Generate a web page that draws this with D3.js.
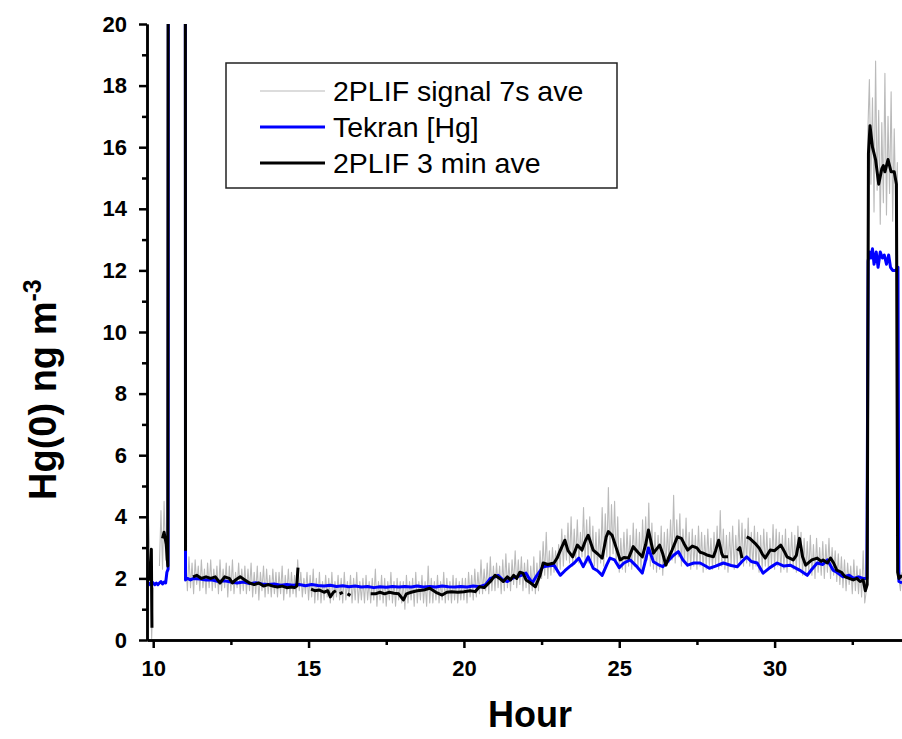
<!DOCTYPE html>
<html>
<head>
<meta charset="utf-8">
<script src="https://cdn.jsdelivr.net/npm/d3@7"></script>
<style>
  body { margin: 0; background: #fff; }
  svg { display: block; }
</style>
</head>
<body>
<figure id="hg" style="margin:0"></figure>
<script>
// 7 s averaged 2PLIF signal, one value every 0.05 h starting at 9.80 h
const grayStart = 9.8;
const grayStep = 0.05;
const grayVals = [
  1.5, 3.9, 2.6, 0.05,
  1.7, null, null, null, 2.4, 4.2, 2.3, 4.5, 2.6, 3.8, 60, 60, 60, 60, 60, 60, 60, 60, 60, 60,
  60, 2.6, 1.6, 2.7, 1.7, 2.5, 1.5, 2.6, 1.8, 2.4, 1.6, 2.6, 1.7, 2.3, 1.5, 2.5, 1.7, 2.6, 1.6, 2.3,
  1.7, 2.4, 1.5, 2.6, 1.6, 2.3, 1.7, 2.5, 1.4, 2.4, 1.6, 2.6, 1.5, 2.2, 1.7, 2.5, 1.5, 2.3, 1.6, 2.4,
  1.5, 2.3, 1.6, 2.5, 1.4, 2.2, 1.5, 2.4, 1.3, 2.2, 1.6, 2.4, 1.4, 2.3, 1.5, 2.1, 1.4, 2.3, 1.5, 2.2,
  1.4, 2.2, 1.5, 2.4, 1.3, 2.1, 1.5, 2.3, 1.4, 2.2, 1.5, 2.1, 1.4, 2.6, 1.6, 2.2, 1.4, 2.0, 1.5, 2.2,
  1.3, 2.1, 1.4, 2.3, 1.2, 2.0, 1.3, 2.2, 1.2, 1.9, 1.3, 2.1, 1.4, 2.0, 1.2, 2.2, 1.3, 1.9, 1.4, 2.1,
  1.3, 2.0, 1.2, 2.2, 1.3, 1.9, 1.4, 2.1, 1.2, 2.0, 1.3, 2.2, 1.2, 1.9, 1.3, 2.0, 1.2, 2.1, 1.3, 1.9,
  1.2, 2.0, 1.3, 2.3, 1.1, 1.9, 1.3, 2.1, 1.2, 2.0, 1.1, 1.9, 1.3, 2.2, 1.2, 1.9, 1.1, 2.0, 1.3, 1.9,
  1.2, 1.9, 1.0, 2.1, 1.2, 1.9, 1.3, 2.0, 1.1, 2.2, 1.2, 1.9, 1.3, 2.1, 1.2, 1.9, 1.1, 2.4, 1.2, 2.0,
  1.2, 1.9, 1.3, 2.1, 1.2, 1.9, 1.3, 2.2, 1.2, 2.0, 1.3, 1.9, 1.2, 2.1, 1.3, 2.0, 1.2, 1.9, 1.3, 2.0,
  1.3, 2.0, 1.2, 2.2, 1.4, 2.1, 1.3, 2.3, 1.4, 2.2, 1.5, 2.6, 1.5, 2.3, 1.6, 2.5, 1.5, 2.7, 1.6, 2.4,
  1.6, 2.5, 1.7, 2.4, 1.5, 2.6, 1.6, 2.8, 1.7, 2.5, 1.6, 2.6, 1.8, 2.9, 1.7, 2.6, 1.8, 2.7, 1.6, 2.5,
  1.7, 2.6, 1.5, 2.4, 1.6, 2.7, 1.5, 2.5, 1.6, 2.9, 2.0, 3.2, 2.1, 3.5, 2.0, 2.9, 2.1, 3.0, 2.2, 2.9,
  2.2, 3.1, 2.3, 3.6, 2.4, 3.4, 2.6, 3.8, 2.5, 4.0, 2.4, 3.6, 2.6, 3.9, 2.5, 3.5, 2.7, 4.3, 2.6, 3.9,
  2.5, 4.0, 2.6, 3.7, 2.4, 3.5, 2.3, 3.6, 2.5, 4.3, 2.4, 4.1, 2.7, 4.95, 2.6, 4.4, 2.8, 4.5, 2.5, 4.0,
  2.2, 3.3, 2.3, 3.5, 2.2, 3.6, 2.4, 3.4, 2.3, 3.8, 2.4, 3.6, 2.3, 3.5, 2.2, 3.9, 2.5, 4.0, 2.6, 4.45,
  2.4, 3.8, 2.3, 3.5, 2.2, 3.4, 2.3, 3.7, 2.1, 3.5, 2.4, 3.6, 2.5, 3.9, 2.6, 4.7, 2.5, 3.9, 2.7, 4.1,
  2.4, 3.6, 2.5, 3.96, 2.4, 3.5, 2.3, 3.6, 2.4, 3.4, 2.3, 3.7, 2.4, 3.5, 2.2, 3.4, 2.3, 3.6, 2.4, 3.3,
  2.3, 3.5, 2.4, 3.7, 2.3, 4.2, 2.4, 3.6, 2.3, 3.4, 2.2, 3.5, 2.4, 3.7, 2.3, 3.4, 2.4, 3.9, 2.5, 3.8,
  2.4, 3.6, 2.5, 3.96, 2.4, 3.5, 2.3, 3.7, 2.4, 3.5, 2.2, 3.4, 2.3, 3.6, 2.4, 3.5, 2.3, 3.3, 2.4, 3.75,
  2.3, 3.6, 2.4, 3.5, 2.2, 3.4, 2.3, 3.6, 2.2, 3.3, 2.4, 3.5, 2.3, 3.4, 2.2, 3.7, 2.3, 3.5, 2.1, 3.3,
  2.1, 3.2, 2.2, 3.4, 2.1, 3.1, 2.0, 3.3, 2.2, 3.0, 2.1, 3.2, 2.0, 3.1, 2.2, 3.3, 2.0, 3.0, 2.1, 2.9,
  1.9, 2.8, 1.8, 2.7, 1.7, 2.6, 1.6, 2.5, 1.8, 2.4, 1.5, 2.6, 1.6, 2.4, 1.5, 2.3, 1.4, 2.9, 1.2, 1.6,
  16.5, 18.2, 14.8, 17.6, 13.9, 18.8, 14.6, 17.2, 13.5, 16.8, 14.2, 18.4, 13.8, 17.0, 14.5, 17.8, 13.6, 16.6, 14.0, 15.5,
  2.0, 1.6, 2.2
];

// Tekran [Hg]
const tekranHour = [
  9.8, 9.85, 9.9, 9.95, 10.0, 10.05, 10.1, 10.15, 10.2, 10.25, 10.3, 10.35, 10.4, 10.44, 10.48, 10.5,
  11.02, 11.04, 11.1, 11.2, 11.3, 11.5, 11.7, 11.9, 12.1, 12.3, 12.5, 12.7, 12.9, 13.1, 13.3, 13.5,
  13.7, 13.9, 14.1, 14.3, 14.5, 14.7, 14.9, 15.1, 15.3, 15.5, 15.7, 15.9, 16.1, 16.3, 16.5, 16.7,
  16.9, 17.1, 17.3, 17.5, 17.7, 17.9, 18.1, 18.3, 18.5, 18.7, 18.9, 19.1, 19.3, 19.5, 19.7, 19.9,
  20.1, 20.3, 20.5, 20.7, 20.85, 21.0, 21.1, 21.25, 21.4, 21.55, 21.7, 21.85, 22.0, 22.1, 22.2, 22.35,
  22.55, 22.7, 22.9, 23.1, 23.25, 23.4, 23.55, 23.7, 23.84, 24.0, 24.16, 24.3, 24.45, 24.6, 24.7, 24.85,
  25.0, 25.15, 25.35, 25.55, 25.74, 25.85, 25.94, 26.1, 26.25, 26.4, 26.6, 26.75, 26.9, 27.05, 27.2, 27.4,
  27.6, 27.75, 27.9, 28.1, 28.35, 28.6, 28.8, 28.95, 29.1, 29.25, 29.44, 29.63, 29.85, 30.08, 30.3, 30.5,
  30.65, 30.8, 31.05, 31.2, 31.37, 31.55, 31.7, 31.88, 32.0, 32.2, 32.4, 32.55, 32.7, 32.85, 32.97, 33.01,
  33.05, 33.1, 33.15, 33.2, 33.27, 33.33, 33.4, 33.47, 33.53, 33.6, 33.67, 33.73, 33.8, 33.9, 33.97, 34.0,
  34.1
];
const tekranVal = [
  1.8, 1.85, 1.8, 1.9, 1.85, 1.8, 1.85, 1.8, 1.85, 1.9, 1.82, 1.88, 1.85, 2.2, 2.3, 60,
  60, 1.95, 2.0, 1.95, 2.0, 1.98, 1.95, 1.95, 1.9, 1.92, 1.88, 1.85, 1.88, 1.83, 1.86, 1.82,
  1.8, 1.82, 1.78, 1.8, 1.78, 1.8, 1.76, 1.8, 1.77, 1.75, 1.78, 1.74, 1.76, 1.73, 1.75, 1.72,
  1.74, 1.7, 1.73, 1.71, 1.74, 1.72, 1.74, 1.72, 1.75, 1.72, 1.74, 1.72, 1.75, 1.73, 1.72, 1.74,
  1.72, 1.75, 1.73, 1.8, 2.0, 2.05, 2.1, 1.95, 1.9, 2.0, 2.05, 2.1, 2.17, 2.0, 1.85, 2.1,
  2.38, 2.4, 2.43, 2.1, 2.25, 2.38, 2.5, 2.66, 2.38, 2.7, 2.33, 2.25, 2.1, 2.45, 2.66, 2.6,
  2.35, 2.5, 2.6, 2.4, 2.17, 2.6, 2.99, 2.54, 2.45, 2.38, 2.6, 2.75, 2.87, 2.6, 2.43, 2.5,
  2.5, 2.42, 2.33, 2.4, 2.5, 2.42, 2.38, 2.55, 2.7, 2.55, 2.5, 2.17, 2.35, 2.5, 2.4, 2.43,
  2.35, 2.27, 2.1, 2.3, 2.5, 2.45, 2.6, 2.27, 2.2, 2.05, 2.1, 2.0, 2.05, 2.0, 2.0, 12.3,
  12.6, 12.4, 12.7, 12.2, 12.6, 12.1, 12.6, 12.4, 12.5, 12.2, 12.5, 12.1, 12.0, 12.0, 12.1, 1.9,
  1.85
];

// 2PLIF 3 min average (null = no data)
const aveHour = [
  9.81, 9.88, 9.94, 9.96, 9.98,
  10.3, 10.35, 10.42, 10.47, 10.5, 11.02, 11.04, 11.06,
  11.28, 11.4, 11.55, 11.7, 11.85, 12.0, 12.15, 12.3, 12.45, 12.55, 12.65, 12.8, 12.95, 13.1, 13.25, 13.4,
  13.55, 13.7, 13.85, 14.0, 14.15, 14.3, 14.45, 14.55, 14.62, 14.66, 14.7,
  15.08, 15.2, 15.35, 15.5, 15.62, 15.7, 15.8, 15.88, 15.94, 16.0, 16.1, 16.17, 16.25, 16.35, 16.4,
  17.0, 17.15, 17.3, 17.45, 17.6, 17.75, 17.9, 18.05, 18.15, 18.3, 18.5, 18.7, 18.9, 19.1, 19.3, 19.45,
  19.6, 19.8, 20.0, 20.2, 20.36, 20.5, 20.65, 20.85, 21.0, 21.15, 21.27, 21.4, 21.5, 21.6, 21.7, 21.8,
  21.9, 22.0, 22.15, 22.3, 22.45, 22.55, 22.7, 22.9, 23.0, 23.1, 23.25, 23.35, 23.5, 23.65, 23.8, 23.9,
  24.0, 24.16, 24.3, 24.45, 24.58, 24.65, 24.77, 24.9, 25.03, 25.15, 25.3, 25.45, 25.6, 25.74, 25.85, 25.94,
  26.1, 26.2, 26.3, 26.4, 26.5, 26.6, 26.7, 26.87, 27.0, 27.1, 27.2, 27.35, 27.5, 27.6, 27.7, 27.85,
  28.03, 28.1, 28.2, 28.3, 28.35, 28.5, 28.6, 28.8, 28.88, 28.95, 29.0, 29.1, 29.2, 29.37, 29.5, 29.6,
  29.7, 29.86, 30.0, 30.2, 30.3, 30.4, 30.6, 30.7, 30.8, 30.9, 31.0, 31.2, 31.37, 31.5, 31.56, 31.7,
  31.8, 31.9, 32.0, 32.15, 32.27, 32.4, 32.53, 32.65, 32.75, 32.85, 32.92, 32.98, 33.02, 33.07, 33.15, 33.25,
  33.35, 33.45, 33.5, 33.55, 33.65, 33.75, 33.85, 33.92, 33.96, 34.0, 34.1
];
const aveVal = [
  1.9, 2.0, 2.95, 0.4, null,
  3.3, 3.5, 3.1, 2.4, 60, 60, 2.9, null,
  2.05, 2.1, 2.0, 2.05, 2.0, 2.05, 1.85, 2.05, 2.0, 1.85, 1.95, 2.05, 1.95, 1.85, 1.8, 1.85,
  1.75, 1.8, 1.75, 1.72, 1.75, 1.7, 1.72, 1.7, 1.75, 2.35, null,
  1.65, 1.6, 1.62, 1.55, 1.6, 1.4, 1.55, 1.6, null, 1.5, 1.55, null, 1.5, 1.45, null,
  1.5, 1.5, 1.55, 1.5, 1.55, 1.52, 1.5, 1.3, 1.5, 1.55, 1.6, 1.62, 1.68, 1.55, 1.46, 1.55,
  1.57, 1.55, 1.57, 1.6, 1.57, 1.73, 1.7, 1.9, 2.1, 2.0, 1.9, 2.05, 1.95, 2.1, 2.0, 2.2,
  2.17, 1.95, 1.85, 1.73, 2.1, 2.5, 2.45, 2.5, 2.66, 2.9, 3.24, 2.9, 2.7, 3.08, 2.92, 3.2,
  3.4, 2.92, 2.8, 2.66, 3.35, 3.52, 3.4, 3.0, 2.6, 2.68, 2.66, 3.03, 2.85, 2.7, 3.1, 3.57,
  2.82, 2.95, 3.08, 2.8, 2.43, 2.7, 2.92, 3.35, 3.3, 3.1, 2.92, 3.05, 2.99, 2.85, 2.82, 2.75,
  2.7, 2.9, 3.24, 2.8, 2.7, 2.7, null, 2.9, 3.0, 2.66, null, 3.35, 3.3, 3.14, 2.99, 2.8,
  2.66, 2.92, 2.9, 3.08, 2.9, 2.7, 2.6, 2.75, 3.3, 2.7, 2.43, 2.6, 2.66, 2.55, 2.6, 2.5,
  2.66, 2.5, 2.27, 2.2, 2.05, 2.0, 1.95, 2.0, 1.9, 1.95, 1.6, 1.8, 15.8, 16.7, 16.0, 15.6,
  14.8, 15.3, 15.4, 15.2, 15.6, 15.2, 15.2, 14.8, 2.2, 2.0, 2.1
];

const yTicks = [0, 2, 4, 6, 8, 10, 12, 14, 16, 18, 20];
const yMinor = [1, 3, 5, 7, 9, 11, 13, 15, 17, 19];
const xTicks = [10, 15, 20, 25, 30];
const xMinor = [12.5, 17.5, 22.5, 27.5, 32.5];
const legendLabels = ['2PLIF signal 7s ave', 'Tekran [Hg]', '2PLIF 3 min ave'];
const legendColors = ['#bababa', '#0000ff', '#000000'];
const legendWidths = [1.1, 3, 3];

const width = 902, height = 739;
const m = { left: 147, right: 902, top: 24, bottom: 640 };

const svg = d3.select('figure#hg').append('svg')
  .attr('width', width).attr('height', height)
  .style('font-family', 'Arial, "Liberation Sans", sans-serif');

svg.append('rect').attr('width', width).attr('height', height).attr('fill', '#fff');

const x = d3.scaleLinear().domain([9.8, 34.1]).range([m.left, m.right]);
const y = d3.scaleLinear().domain([0, 20]).range([m.bottom, m.top]);

svg.append('clipPath').attr('id', 'plot')
  .append('rect')
  .attr('x', m.left).attr('y', m.top)
  .attr('width', m.right - m.left).attr('height', m.bottom - m.top);

const gray = grayVals.map((v, i) => [grayStart + i * grayStep, v]);
const tekran = tekranHour.map((h, i) => [h, tekranVal[i]]);
const ave = aveHour.map((h, i) => [h, aveVal[i]]);

const line = d3.line()
  .defined((d) => d[1] != null)
  .x((d) => x(d[0]))
  .y((d) => y(d[1]));

const plot = svg.append('g').attr('clip-path', 'url(#plot)');
[gray, tekran, ave].forEach((s, i) => {
  plot.append('path')
    .attr('d', line(s))
    .attr('fill', 'none')
    .attr('stroke', legendColors[i])
    .attr('stroke-width', legendWidths[i])
    .attr('stroke-linejoin', 'round');
});

// axes
svg.append('g')
  .attr('transform', `translate(${m.left},0)`)
  .call(d3.axisLeft(y).tickValues(yTicks).tickSize(8).tickSizeOuter(0).tickPadding(12).tickFormat(d3.format('d')));
svg.append('g')
  .attr('transform', `translate(${m.left},0)`)
  .call(d3.axisLeft(y).tickValues(yMinor).tickSize(5).tickSizeOuter(0).tickFormat(''));

svg.append('g')
  .attr('transform', `translate(0,${m.bottom})`)
  .call(d3.axisBottom(x).tickValues(xTicks).tickSize(8).tickSizeOuter(0).tickPadding(12).tickFormat(d3.format('d')));
svg.append('g')
  .attr('transform', `translate(0,${m.bottom})`)
  .call(d3.axisBottom(x).tickValues(xMinor).tickSize(5).tickSizeOuter(0).tickFormat(''));

svg.selectAll('.domain').attr('stroke', '#000').attr('stroke-width', 2.5);
svg.selectAll('.tick line').attr('stroke', '#000').attr('stroke-width', 2.5);
svg.selectAll('.tick text')
  .attr('fill', '#000')
  .style('font-size', '22px')
  .style('font-weight', 'bold');

svg.append('text')
  .attr('x', 530).attr('y', 727)
  .attr('text-anchor', 'middle')
  .style('font-size', '36px').style('font-weight', 'bold')
  .text('Hour');

const yl = svg.append('text')
  .attr('transform', 'translate(56,500) rotate(-90)')
  .attr('text-anchor', 'start')
  .style('font-size', '38px').style('font-weight', 'bold');
yl.append('tspan').text('Hg(0) ng m');
yl.append('tspan').attr('dy', -15).style('font-size', '25px').text('-3');

// legend
const lg = svg.append('g');
lg.append('rect')
  .attr('x', 226).attr('y', 63).attr('width', 391).attr('height', 125)
  .attr('fill', '#fff').attr('stroke', '#222').attr('stroke-width', 1.5);
legendLabels.forEach((t, i) => {
  const ly = 91 + i * 36;
  lg.append('line')
    .attr('x1', 260).attr('x2', 325).attr('y1', ly).attr('y2', ly)
    .attr('stroke', legendColors[i]).attr('stroke-width', legendWidths[i]);
  lg.append('text')
    .attr('x', 333).attr('y', ly + 10)
    .style('font-size', '28.5px')
    .text(t);
});
</script>
</body>
</html>
